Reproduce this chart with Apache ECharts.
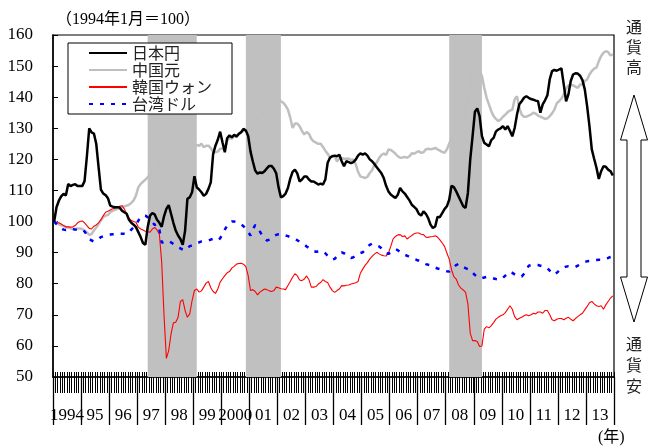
<!DOCTYPE html>
<html>
<head>
<meta charset="utf-8">
<script src="https://cdn.jsdelivr.net/npm/echarts@6/dist/echarts.min.js"></script>
<style>
html, body { margin: 0; padding: 0; background: #fff; }
#chart { width: 654px; height: 448px; }
</style>
</head>
<body>
<div id="chart"></div>
<script>
// year labels for the x axis
var yearLabels = ["1994", "95", "96", "97", "98", "99", "2000", "01", "02", "03",
  "04", "05", "06", "07", "08", "09", "10", "11", "12", "13"];

// monthly categories 1994-01 .. 2013-12
var months = [];
for (var y = 1994; y <= 2013; y++) {
  for (var m = 1; m <= 12; m++) {
    months.push(y + "-" + (m < 10 ? "0" + m : m));
  }
}

var yTicks = [50, 60, 70, 80, 90, 100, 110, 120, 130, 140, 150, 160];

// 1994年1月 = 100, one row per year
var jpy = [
  100.0, 104.6, 106.7, 108.1, 108.9, 108.4, 112.1, 111.4, 111.8, 112.0, 111.4, 111.4,
  111.4, 113.0, 121.0, 130.0, 128.7, 128.3, 125.0, 117.5, 110.3, 109.0, 108.5, 107.5,
  105.1, 104.8, 104.6, 104.6, 104.5, 103.5, 103.0, 102.5, 100.6, 99.6, 99.0, 98.2,
  96.6, 95.0, 93.1, 92.5, 98.2, 101.9, 102.7, 102.3, 100.6, 99.6, 98.3, 101.7,
  104.1, 105.3, 102.5, 99.6, 97.1, 95.5, 94.4, 92.5, 97.0, 107.3, 107.8, 109.4,
  114.6, 111.0, 110.3, 109.4, 108.3, 108.9, 110.5, 112.6, 121.7, 124.4, 126.3, 128.9,
  125.5, 122.3, 126.8, 127.7, 127.1, 127.9, 127.4, 128.2, 128.7, 129.8, 129.3, 127.5,
  122.5, 119.3, 116.4, 115.4, 115.8, 115.6, 116.2, 117.1, 117.9, 117.9, 117.0, 115.5,
  111.0, 107.8, 108.2, 109.0, 110.8, 113.8, 116.0, 116.7, 115.5, 112.9, 113.5, 114.5,
  114.5, 113.5, 112.9, 112.9, 112.4, 111.9, 112.2, 111.9, 113.5, 118.9, 120.5, 121.0,
  121.2, 121.0, 121.5, 119.4, 117.8, 119.4, 119.1, 118.8, 119.1, 119.9, 121.2, 121.9,
  121.5, 121.9, 121.2, 120.0, 119.4, 118.5, 117.5, 116.5, 115.5, 114.0, 111.5, 109.7,
  108.7, 108.1, 107.6, 108.6, 110.8, 109.7, 109.0, 107.9, 106.8, 105.4, 104.7, 104.0,
  102.5, 101.9, 103.3, 102.5, 101.1, 99.0, 97.9, 98.4, 101.5, 101.4, 102.7, 104.0,
  104.9, 107.0, 111.5, 111.1, 109.7, 108.1, 106.5, 104.9, 104.4, 109.2, 120.0, 127.5,
  135.3, 136.4, 133.9, 127.5, 125.3, 124.8, 124.2, 126.2, 126.9, 129.0, 129.6, 130.0,
  130.7, 129.6, 130.7, 129.1, 127.4, 130.1, 134.4, 137.7, 138.7, 139.8, 140.3, 139.8,
  139.4, 139.2, 138.9, 138.7, 135.0, 137.7, 139.0, 140.6, 145.7, 148.4, 148.8, 148.5,
  148.9, 149.3, 144.1, 138.7, 140.9, 145.2, 147.3, 147.7, 147.6, 146.9, 145.5, 142.5,
  137.1, 130.7, 123.2, 120.2, 117.3, 113.7, 116.2, 117.8, 117.6, 116.7, 116.2, 114.8
];

var cny = [
  100.0, 99.7, 99.2, 98.8, 98.6, 98.1, 98.1, 97.8, 97.6, 97.6, 97.8, 97.8,
  97.6, 97.1, 96.5, 95.7, 96.0, 97.1, 98.1, 99.2, 100.3, 101.4, 101.9, 102.1,
  103.0, 103.4, 103.8, 104.1, 104.3, 104.6, 104.9, 105.1, 105.4, 106.0, 106.8, 108.4,
  111.0, 112.1, 112.8, 113.5, 114.2, 115.0, 115.9, 116.8, 117.5, 118.5, 119.6, 120.7,
  121.2, 121.7, 122.3, 122.5, 122.8, 123.1, 123.4, 123.6, 123.8, 123.9, 124.0, 124.2,
  124.2, 124.6, 124.4, 125.0, 123.9, 124.4, 124.4, 123.6, 122.5, 122.3, 122.5, 123.4,
  123.4, 123.1, 126.0, 127.1, 126.6, 127.6, 127.1, 128.2, 128.7, 129.2, 129.2, 128.7,
  130.0, 131.0, 132.0, 133.0, 134.0, 134.5, 135.0, 135.5, 136.0, 137.0, 138.0, 139.0,
  139.5, 138.7, 138.2, 137.3, 136.0, 133.4, 130.1, 131.5, 131.5, 130.7, 129.1, 128.0,
  128.8, 128.2, 126.6, 125.8, 125.4, 125.0, 125.0, 124.0, 122.8, 121.8, 120.7, 121.1,
  120.9, 119.3, 120.4, 120.4, 120.2, 120.2, 120.3, 119.8, 120.0, 118.5, 116.0, 114.5,
  114.3, 114.0, 114.4, 115.6, 116.5, 118.3, 119.0, 120.4, 121.4, 121.9, 121.4, 123.2,
  123.0, 122.5, 121.8, 121.0, 120.5, 120.6, 120.8, 120.5, 121.0, 122.0, 121.8, 122.3,
  122.6, 122.1, 122.3, 123.2, 123.4, 123.2, 123.4, 123.7, 123.2, 122.8, 122.4, 122.1,
  123.2, 125.0, 127.0, 128.5, 129.5, 130.5, 131.5, 133.0, 135.0, 139.0, 144.0, 148.0,
  149.5, 150.0, 148.5, 146.8, 143.0, 139.8, 137.7, 135.5, 133.9, 133.0, 132.3, 132.8,
  133.7, 134.4, 135.2, 135.7, 136.0, 139.3, 140.3, 136.6, 134.4, 133.7, 133.7, 134.1,
  134.4, 135.0, 134.7, 134.1, 133.7, 133.4, 133.0, 133.2, 133.9, 134.8, 136.0, 138.0,
  138.7, 139.5, 140.9, 142.7, 143.8, 143.8, 143.8, 143.4, 143.0, 144.1, 144.1, 145.2,
  145.7, 147.3, 148.4, 149.2, 149.5, 151.6, 153.2, 154.3, 154.8, 154.5, 153.4, 153.8
];

var krw = [
  100.0, 99.6, 99.6, 99.2, 98.7, 98.3, 98.3, 98.2, 98.3, 98.7, 99.6, 100.0,
  100.2, 99.6, 98.7, 97.8, 97.6, 98.5, 98.9, 99.6, 100.6, 101.9, 103.0, 103.3,
  103.7, 104.1, 104.3, 104.6, 104.9, 105.1, 104.1, 102.5, 101.1, 100.3, 100.0, 99.8,
  98.2, 97.6, 97.3, 96.9, 96.7, 96.6, 97.6, 98.1, 97.3, 96.0, 86.9, 69.8,
  56.0, 58.5, 63.9, 67.4, 67.6, 69.2, 74.3, 74.9, 71.4, 69.2, 70.3, 74.6,
  77.8, 78.3, 77.3, 77.7, 78.9, 80.2, 80.7, 78.7, 77.5, 76.9, 78.3, 80.5,
  81.6, 82.6, 83.5, 83.9, 85.0, 85.6, 86.3, 86.5, 86.6, 86.3, 85.5, 82.6,
  77.8, 78.1, 77.5, 76.4, 77.3, 77.8, 78.3, 78.1, 77.7, 77.5, 77.8, 78.9,
  78.7, 78.4, 78.3, 78.1, 79.4, 80.7, 82.1, 83.2, 82.6, 81.2, 81.0, 81.5,
  82.5, 81.3, 78.9, 78.9, 79.1, 79.9, 80.4, 81.3, 80.7, 80.4, 78.9, 77.8,
  77.2, 77.8, 78.3, 79.4, 79.3, 79.5, 79.6, 79.9, 80.1, 80.3, 80.7, 83.4,
  84.7, 85.9, 86.8, 87.9, 88.8, 89.5, 90.1, 89.6, 89.2, 89.0, 88.9, 89.9,
  92.0, 94.4, 95.2, 95.7, 95.8, 95.2, 95.4, 94.4, 95.0, 95.5, 96.1, 96.3,
  96.3, 95.9, 95.8, 95.0, 94.9, 95.1, 95.2, 95.4, 95.0, 94.1, 93.1, 92.0,
  89.9, 87.9, 84.5, 82.3, 81.5, 79.6, 78.6, 78.0, 77.2, 73.5, 64.1, 61.7,
  61.7, 61.4, 59.8, 60.0, 65.4, 66.2, 65.8, 66.5, 67.5, 68.6, 69.2, 69.7,
  70.0, 70.7, 71.8, 72.9, 71.8, 69.4, 68.4, 68.9, 69.2, 69.7, 70.0, 69.7,
  70.0, 70.5, 70.3, 70.9, 70.9, 70.5, 71.4, 71.4, 70.0, 68.4, 68.1, 68.6,
  68.8, 68.8, 68.4, 68.9, 69.2, 68.6, 68.1, 68.8, 69.4, 70.0, 70.5, 71.6,
  72.7, 73.9, 74.3, 73.5, 72.9, 72.7, 72.9, 71.8, 73.2, 74.3, 75.4, 76.1
];

var twd = [
  100.0, 99.2, 98.5, 97.8, 97.4, 97.3, 97.4, 97.6, 97.6, 97.4, 97.3, 97.4,
  97.4, 96.8, 95.7, 94.4, 93.9, 93.6, 93.9, 94.4, 95.0, 95.3, 95.5, 95.7,
  95.8, 95.9, 96.0, 96.0, 96.1, 96.1, 96.1, 96.0, 96.5, 97.4, 98.2, 98.9,
  100.3, 101.4, 101.9, 101.9, 101.4, 100.6, 99.8, 98.9, 99.2, 97.4, 93.3, 93.1,
  93.1, 93.6, 93.3, 92.8, 92.3, 91.7, 91.4, 91.0, 90.7, 91.4, 92.1, 92.3,
  92.6, 93.0, 93.3, 93.6, 93.7, 93.8, 93.9, 94.2, 94.4, 93.9, 94.1, 94.6,
  96.0, 97.4, 98.7, 99.6, 100.0, 100.0, 99.8, 99.6, 99.1, 98.5, 97.6, 96.6,
  95.5, 97.4, 98.9, 98.2, 96.8, 95.5, 94.6, 93.9, 94.2, 94.6, 95.3, 95.7,
  95.9, 96.0, 95.8, 95.5, 95.3, 95.0, 94.6, 94.3, 94.0, 93.5, 93.0, 92.6,
  92.0, 91.5, 91.0, 90.5, 90.3, 90.4, 90.6, 90.4, 89.8, 89.0, 88.3, 87.8,
  88.0, 88.8, 89.6, 90.1, 89.8, 89.3, 88.8, 88.3, 88.5, 89.0, 89.5, 89.9,
  90.1, 90.9, 91.8, 92.5, 92.9, 92.7, 92.3, 92.0, 91.4, 90.6, 89.9, 89.6,
  90.0, 90.6, 91.1, 90.8, 90.2, 89.6, 89.3, 89.0, 88.6, 88.2, 87.9, 87.7,
  87.4, 87.0, 86.6, 86.3, 86.1, 85.8, 85.5, 85.2, 84.9, 84.7, 84.5, 84.2,
  84.0, 83.9, 84.6, 85.4, 86.0, 86.4, 86.0, 85.4, 85.0, 84.7, 84.5, 83.6,
  82.8, 82.2, 81.8, 81.8, 82.0, 82.2, 82.1, 81.9, 81.7, 81.5, 81.4, 81.3,
  81.9, 82.6, 83.3, 83.9, 83.5, 83.0, 82.6, 82.4, 82.3, 83.2, 84.3, 85.8,
  86.0, 86.1, 86.1, 86.0, 85.8, 85.6, 85.5, 85.0, 84.2, 83.4, 82.9, 83.5,
  84.2, 84.8, 85.2, 85.5, 85.6, 85.5, 85.4, 85.4, 85.8, 86.2, 86.6, 87.0,
  87.2, 87.3, 87.4, 87.5, 87.6, 87.7, 87.7, 87.9, 88.1, 88.3, 88.6, 88.8
];

// shaded periods (start month, end month)
var shadePeriods = [
  ["1997-05", "1999-02"],
  ["2000-11", "2002-02"],
  ["2008-02", "2009-04"]
];

var serifFont = "'Liberation Serif', 'Times New Roman', 'Noto Sans CJK JP', serif";
var cjkFont = "'Noto Sans CJK JP', sans-serif";

var chart = echarts.init(document.getElementById("chart"));

chart.setOption({
  animation: false,
  backgroundColor: "#fff",
  grid: {
    left: 53,
    right: 40,
    top: 35,
    bottom: 71,
    show: true,
    borderColor: "#000",
    borderWidth: 1.2,
    backgroundColor: "transparent"
  },
  legend: {
    orient: "vertical",
    left: 68,
    top: 43,
    data: ["日本円", "中国元", "韓国ウォン", "台湾ドル"],
    itemWidth: 38,
    itemHeight: 14,
    itemGap: 1,
    padding: [2, 20, 2, 20],
    borderColor: "#000",
    borderWidth: 1,
    backgroundColor: "#fff",
    selectedMode: false,
    itemStyle: { opacity: 0 },
    textStyle: {
      fontFamily: cjkFont,
      fontSize: 16,
      color: "#222",
      padding: [0, 0, 0, 0]
    }
  },
  xAxis: [
    {
      type: "category",
      data: months,
      boundaryGap: true,
      position: "bottom",
      axisLine: { lineStyle: { color: "#000", width: 1.5 } },
      axisTick: { show: true, interval: 0, length: 16, lineStyle: { color: "#000", width: 1 } },
      axisLabel: { show: false },
      splitLine: { show: false }
    },
    {
      type: "category",
      data: months,
      boundaryGap: true,
      position: "bottom",
      axisLine: { show: false },
      axisTick: { show: true, interval: 0, inside: true, length: 5, lineStyle: { color: "#000", width: 1 } },
      axisLabel: { show: false },
      splitLine: { show: false }
    },
    {
      type: "category",
      data: yearLabels,
      boundaryGap: true,
      position: "bottom",
      axisLine: { show: false },
      axisTick: { show: true, interval: 0, length: 48, lineStyle: { color: "#000", width: 1.3 } },
      axisLabel: {
        interval: 0,
        margin: 30,
        color: "#000",
        fontFamily: serifFont,
        fontSize: 17
      },
      splitLine: { show: false }
    }
  ],
  yAxis: {
    type: "value",
    min: yTicks[0],
    max: yTicks[yTicks.length - 1],
    interval: 10,
    axisLine: { show: true, lineStyle: { color: "#000", width: 1.5 } },
    axisTick: { show: true, inside: true, length: 5, lineStyle: { color: "#000", width: 1 } },
    axisLabel: {
      margin: 20,
      color: "#000",
      fontFamily: serifFont,
      fontSize: 17
    },
    splitLine: { show: false }
  },
  series: [
    {
      name: "中国元",
      type: "line",
      data: cny,
      symbol: "none",
      lineStyle: { color: "#bfbfbf", width: 2.5 },
      itemStyle: { color: "#bfbfbf" },
      markArea: {
        silent: true,
        itemStyle: { color: "#c0c0c0", opacity: 1 },
        data: shadePeriods.map(function (p) {
          return [{ xAxis: p[0] }, { xAxis: p[1] }];
        })
      }
    },
    {
      name: "韓国ウォン",
      type: "line",
      data: krw,
      symbol: "none",
      lineStyle: { color: "#ff0000", width: 1.1 },
      itemStyle: { color: "#ff0000" }
    },
    {
      name: "台湾ドル",
      type: "line",
      data: twd,
      symbol: "none",
      lineStyle: { color: "#0000ff", width: 2.5, type: [4, 7] },
      itemStyle: { color: "#0000ff" }
    },
    {
      name: "日本円",
      type: "line",
      data: jpy,
      symbol: "none",
      lineStyle: { color: "#000", width: 2.5 },
      itemStyle: { color: "#000" }
    }
  ],
  graphic: [
    {
      type: "text",
      left: 56,
      top: 12,
      style: { text: "（1994年1月＝100）", fontFamily: serifFont, fontSize: 16, fill: "#000" }
    },
    {
      type: "text",
      left: 598,
      top: 430,
      style: { text: "(年)", fontFamily: serifFont, fontSize: 16, fill: "#000" }
    },
    {
      type: "text",
      left: 626,
      top: 17,
      style: { text: "通\n貨\n高", fontFamily: cjkFont, fontSize: 16, lineHeight: 20, fill: "#222" }
    },
    {
      type: "text",
      left: 626,
      top: 333,
      style: { text: "通\n貨\n安", fontFamily: cjkFont, fontSize: 16, lineHeight: 21, fill: "#222" }
    },
    {
      type: "polygon",
      shape: {
        points: [[634, 95], [647.5, 140], [641, 140], [641, 277], [647.5, 277], [634, 322],
                 [620.5, 277], [627, 277], [627, 140], [620.5, 140]]
      },
      style: { fill: "#fff", stroke: "#000", lineWidth: 1 }
    }
  ]
});
</script>
</body>
</html>
